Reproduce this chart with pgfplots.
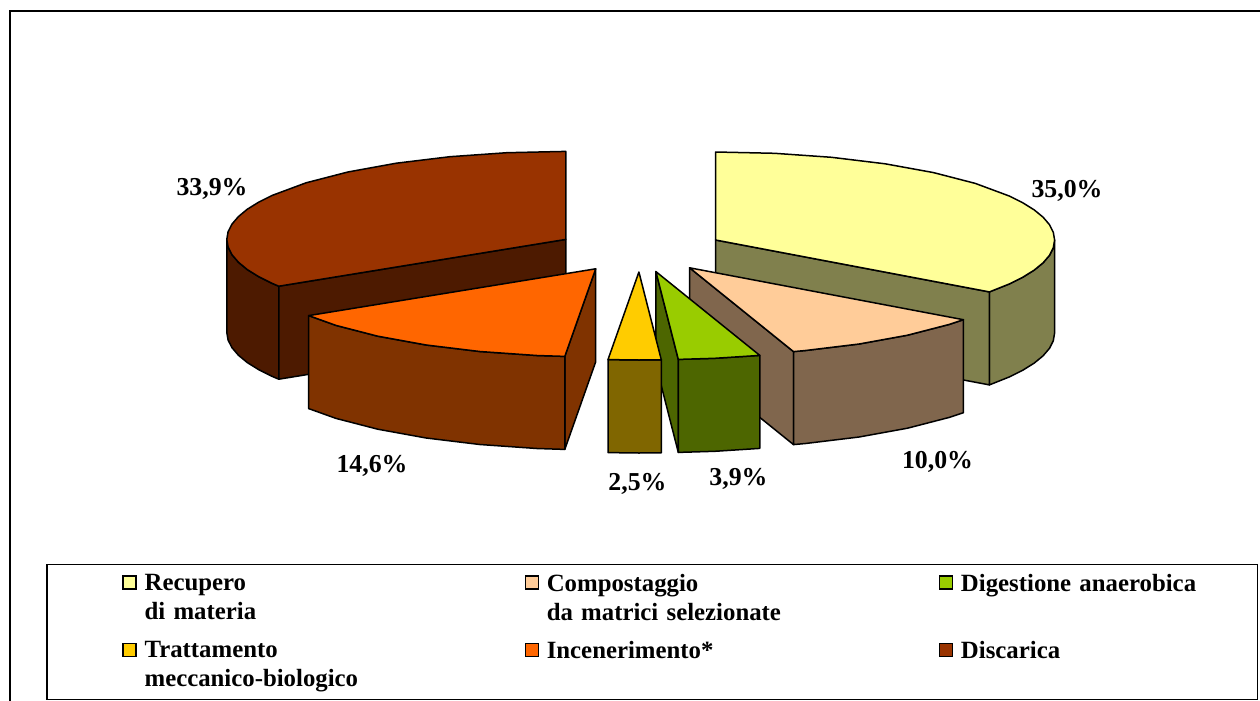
\documentclass[border=0pt]{standalone}
\usepackage{fontspec}
\setmainfont{Liberation Serif}
\usepackage{pgfplots}
\pgfplotsset{compat=1.18}
\definecolor{recTop}{HTML}{FFFF99}
\definecolor{recSide}{HTML}{80804D}
\definecolor{comTop}{HTML}{FFCC99}
\definecolor{comSide}{HTML}{80664D}
\definecolor{digTop}{HTML}{99CC00}
\definecolor{digSide}{HTML}{4D6600}
\definecolor{traTop}{HTML}{FFCC00}
\definecolor{traSide}{HTML}{806600}
\definecolor{incTop}{HTML}{FF6600}
\definecolor{incSide}{HTML}{803300}
\definecolor{disTop}{HTML}{993300}
\definecolor{disSide}{HTML}{4D1A00}
\pgfplotsset{slice/.style={draw=black, line width=0.75bp, line join=round, mark=none, forget plot}}

\begin{document}
\begin{tikzpicture}
\useasboundingbox (0,0) rectangle (630bp,350.5bp);
\begin{axis}[
  at={(0,0)}, anchor=south west,
  width=630bp, height=350.5bp, scale only axis,
  xmin=0, xmax=1260, ymin=0, ymax=701, y dir=reverse,
  axis lines=none, clip=false,
  legend image code/.code={\draw[#1, line width=0.6bp] (0bp,-2.5bp) rectangle (6.5bp,4bp);},
  legend columns=3,
  legend style={at={(axis cs:122,573.5)}, anchor=north west, draw=none, fill=none,
    inner sep=0pt, row sep=23.5bp,
    font=\bfseries\fontsize{12.4bp}{14.5bp}\selectfont,
    nodes={inner sep=0pt, align=left},
    /tikz/every odd column/.append style={column sep=4bp},
    /tikz/column 2/.style={text width=190bp},
    /tikz/column 4/.style={text width=196bp},
    /tikz/column 6/.style={text width=120bp}},
]
% Discarica 33,9% (237.84 -> 360)
\addplot[slice, fill=disSide] coordinates {(278.8,286.2) (272.2,283.4) (258.6,276.6) (247.2,269.5) (238.4,262.2) (232.0,254.7) (228.1,247.1) (226.8,239.4) (226.8,332.4) (228.1,340.1) (232.0,347.7) (238.4,355.2) (247.2,362.5) (258.6,369.6) (272.2,376.4) (278.8,379.2)} -- cycle;
\addplot[slice, fill=disSide] coordinates {(565.8,239.4) (278.8,286.2) (278.8,379.2) (565.8,332.4)} -- cycle;
\addplot[slice, fill=disTop] coordinates {(565.8,239.4) (278.8,286.2) (272.2,283.4) (258.6,276.6) (247.2,269.5) (238.4,262.2) (232.0,254.7) (228.1,247.1) (226.8,239.4) (228.1,231.7) (232.0,224.1) (238.4,216.6) (247.2,209.3) (258.6,202.2) (272.2,195.4) (306.1,182.8) (347.9,172.0) (396.3,163.2) (449.9,156.7) (506.9,152.7) (565.8,151.4)} -- cycle;
% Recupero di materia 35,0% (0 -> 126.13)
\addplot[slice, fill=recSide] coordinates {(1054.6,240.0) (1053.3,247.7) (1049.5,255.3) (1043.1,262.8) (1034.2,270.1) (1022.8,277.2) (1009.2,284.0) (989.4,291.9) (989.4,384.9) (1009.2,377.0) (1022.8,370.2) (1034.2,363.1) (1043.1,355.8) (1049.5,348.3) (1053.3,340.7) (1054.6,333.0)} -- cycle;
\addplot[slice, fill=recSide] coordinates {(715.6,240.0) (989.4,291.9) (989.4,384.9) (715.6,333.0)} -- cycle;
\addplot[slice, fill=recTop] coordinates {(715.6,240.0) (715.6,152.0) (774.5,153.3) (831.5,157.3) (885.1,163.8) (933.5,172.6) (975.3,183.4) (1009.2,196.0) (1022.8,202.8) (1034.2,209.9) (1043.1,217.2) (1049.5,224.7) (1053.3,232.3) (1054.6,240.0) (1053.3,247.7) (1049.5,255.3) (1043.1,262.8) (1034.2,270.1) (1022.8,277.2) (1009.2,284.0) (989.4,291.9)} -- cycle;
% Incenerimento 14,6% (185.23 -> 237.84)
\addplot[slice, fill=incSide] coordinates {(595.7,268.8) (564.8,356.4) (564.8,449.4) (595.7,361.8)} -- cycle;
\addplot[slice, fill=incSide] coordinates {(564.8,356.4) (536.8,355.5) (479.8,351.5) (426.2,345.0) (377.8,336.2) (336.0,325.4) (308.7,315.6) (308.7,408.6) (336.0,418.4) (377.8,429.2) (426.2,438.0) (479.8,444.5) (536.8,448.5) (564.8,449.4)} -- cycle;
\addplot[slice, fill=incTop] coordinates {(595.7,268.8) (564.8,356.4) (536.8,355.5) (479.8,351.5) (426.2,345.0) (377.8,336.2) (336.0,325.4) (308.7,315.6)} -- cycle;
% Compostaggio 10,0% (126.13 -> 162.16)
\addplot[slice, fill=comSide] coordinates {(689.6,267.8) (793.5,351.6) (793.5,444.6) (689.6,360.8)} -- cycle;
\addplot[slice, fill=comSide] coordinates {(963.4,319.7) (949.3,324.4) (907.5,335.2) (859.1,344.0) (805.5,350.5) (793.5,351.6) (793.5,444.6) (805.5,443.5) (859.1,437.0) (907.5,428.2) (949.3,417.4) (963.4,412.7)} -- cycle;
\addplot[slice, fill=comTop] coordinates {(689.6,267.8) (963.4,319.7) (949.3,324.4) (907.5,335.2) (859.1,344.0) (805.5,350.5) (793.5,351.6)} -- cycle;
% Digestione anaerobica 3,9% (162.16 -> 176.22)
\addplot[slice, fill=digSide] coordinates {(655.9,271.6) (678.3,359.4) (678.3,452.4) (655.9,364.6)} -- cycle;
\addplot[slice, fill=digSide] coordinates {(759.8,355.4) (714.8,358.3) (678.3,359.4) (678.3,452.4) (714.8,451.3) (759.8,448.4)} -- cycle;
\addplot[slice, fill=digTop] coordinates {(655.9,271.6) (759.8,355.4) (714.8,358.3) (678.3,359.4)} -- cycle;
% Trattamento meccanico-biologico 2,5% (176.22 -> 185.23)
\addplot[slice, fill=traSide] coordinates {(661.3,359.8) (638.9,360.0) (608.0,359.6) (608.0,452.6) (638.9,453.0) (661.3,452.8)} -- cycle;
\addplot[slice, fill=traTop] coordinates {(638.9,272.0) (661.3,359.8) (638.9,360.0) (608.0,359.6)} -- cycle;

% percentage labels
\begin{scope}[every node/.style={font=\bfseries\fontsize{12.9bp}{15bp}\selectfont, anchor=base, inner sep=0pt}]
\node at (axis cs:1067,197) {35,0\%};
\node at (axis cs:212,195) {33,9\%};
\node at (axis cs:372,472) {14,6\%};
\node at (axis cs:637.5,490) {2,5\%};
\node at (axis cs:738.5,485) {3,9\%};
\node at (axis cs:937.5,468) {10,0\%};
\end{scope}

% frames
\draw[line width=1bp] (axis cs:10,701) -- (axis cs:10,11) -- (axis cs:1260,11);
\draw[line width=0.75bp] (axis cs:47,564.5) rectangle (axis cs:1257.5,699.5);

% legend
\addlegendimage{fill=recTop, draw=black}
\addlegendentry{Recupero\\di materia}
\addlegendimage{fill=comTop, draw=black}
\addlegendentry{Compostaggio\\da matrici selezionate}
\addlegendimage{fill=digTop, draw=black}
\addlegendentry{Digestione anaerobica}
\addlegendimage{fill=traTop, draw=black}
\addlegendentry{Trattamento\\meccanico-biologico}
\addlegendimage{fill=incTop, draw=black}
\addlegendentry{Incenerimento*}
\addlegendimage{fill=disTop, draw=black}
\addlegendentry{Discarica}
\end{axis}
\end{tikzpicture}
\end{document}
